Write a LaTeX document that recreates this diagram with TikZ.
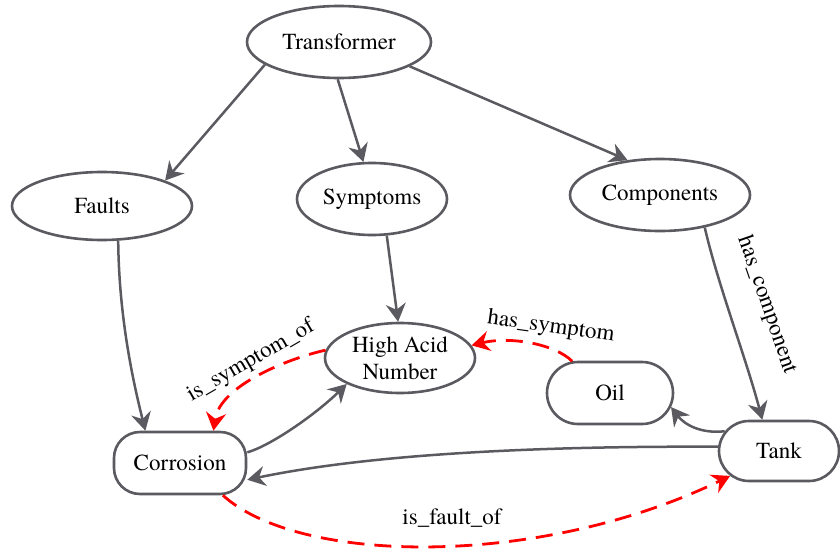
\documentclass[tikz,border=0pt]{standalone}
\usepackage{fontspec}
\setmainfont{TeX Gyre Termes}
\usetikzlibrary{arrows.meta,shapes.geometric,shapes.misc}
\definecolor{edgegray}{HTML}{5A5A60}
\definecolor{relred}{HTML}{FF0000}
\begin{document}
\begin{tikzpicture}[x=1pt,y=-1pt,
  font=\rmfamily\fontsize{23}{27}\selectfont,
  concept/.style={ellipse, draw=edgegray, line width=2.6pt, inner sep=0pt, fill=white},
  leaf/.style={rounded rectangle, draw=edgegray, line width=2.6pt, inner sep=0pt, fill=white},
  boxleaf/.style={rectangle, rounded corners=26pt, draw=edgegray, line width=2.6pt, inner sep=0pt, fill=white},
  tip/.style={-{Stealth[length=18pt,width=20pt,inset=6pt]}},
  link/.style={draw=edgegray, line width=2.5pt, tip},
  rel/.style={draw=relred, line width=2.8pt, dash pattern=on 17pt off 10pt, tip},
  lbl/.style={inner sep=0pt}
]
\useasboundingbox (0,0) rectangle (840,554);

% concept nodes
\node[concept, minimum width=184pt, minimum height=72pt] (transformer) at (339,42) {Transformer};
\node[concept, minimum width=180pt, minimum height=68pt] (faults) at (102,206) {Faults};
\node[concept, minimum width=150pt, minimum height=72pt] (symptoms) at (372,199) {Symptoms};
\node[concept, minimum width=180pt, minimum height=72pt] (components) at (660,195) {Components};
\node[concept, minimum width=150pt, minimum height=70pt, align=center] (acid) at (400,358) {High Acid\\Number};
\node[leaf, minimum width=126pt, minimum height=62pt] (oil) at (610,393) {Oil};
\node[leaf, minimum width=120pt, minimum height=60pt] (tank) at (779,451) {Tank};
\node[boxleaf, minimum width=132pt, minimum height=62pt] (corrosion) at (180,463) {Corrosion};

% hierarchy links
\draw[link] (transformer.197) -- (faults.22);
\draw[link] (transformer.-92) -- (symptoms.103);
\draw[link] (transformer.-19) -- (components.133);
\draw[link] (symptoms.-68) -- (acid.93);
\draw[link] (faults.-65) .. controls (119,320) and (134,385) .. (corrosion.137);
\draw[link] (components.-36) .. controls (718,285) and (745,355) .. (tank.118);
\draw[link] (corrosion.9) .. controls (270,446) and (315,415) .. (acid.206);
\draw[link] (tank.176) .. controls (560,446) and (380,452) .. (corrosion.-14);
\draw[link] (tank.160) .. controls (700,434) and (684,424) .. (oil.-13);

% inferred relations
\draw[rel] (oil.140) .. controls (555,344) and (510,336) .. (acid.10);
\draw[rel] (acid.174) .. controls (290,358) and (220,385) .. (corrosion.44);
\draw[rel] (corrosion.-37) .. controls (300,565) and (540,568) .. (tank.-153);

% relation labels
\node[lbl, rotate=-71] (hascomp) at (767,305) {has\_component};
\node[lbl, rotate=-8] (hassym) at (551,327) {has\_symptom};
\node[lbl, rotate=30] (issym) at (251,361) {is\_symptom\_of};
\node[lbl] (isfault) at (452,518) {is\_fault\_of};
\end{tikzpicture}
\end{document}
